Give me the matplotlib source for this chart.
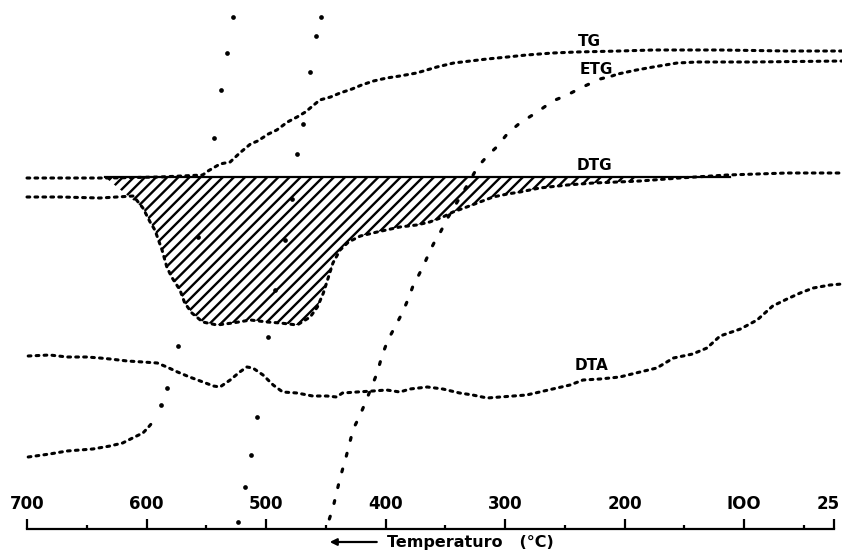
import numpy as np
import matplotlib
matplotlib.use("Agg")
import matplotlib.pyplot as plt
from matplotlib.ticker import FixedLocator
from matplotlib.transforms import ScaledTranslation

plt.rcParams['hatch.linewidth'] = 1.7

# readings: temperature (deg C) and signal (arbitrary units)
tg_t = [700, 631, 589, 553, 548.5, 538.5, 530, 522, 513, 507, 498, 491, 482, 474,
        467, 462, 455, 446, 438, 428, 420, 410, 399, 388, 374, 357, 343, 329, 315,
        298, 282, 260, 240, 204, 176, 120, 64, 18]
tg_y = [374, 374, 375, 377, 381, 388, 390, 399, 408, 411, 418, 422, 430, 435,
        440, 445, 452, 455, 459, 463, 467, 471, 474, 476, 479, 485, 489, 491, 493,
        495, 497, 499, 500, 501, 502, 502, 501, 501]

etg_t = [447, 444, 438, 433, 427, 422, 417, 407, 403, 398, 393, 386, 381, 377, 373,
         368, 362, 358.6, 354, 348, 342, 336, 329, 323, 314, 307, 297.5, 287.5, 273,
         260, 248, 235, 220.5, 210.5, 205.5, 190, 176, 156, 139, 92.5, 18]
etg_y = [33, 44, 74, 95, 123, 135, 149, 179, 196, 212, 223, 239, 253, 266, 275,
         287, 303, 311, 320, 334, 346, 358, 372, 385, 397, 405, 419, 429, 440,
         451, 457, 465, 473, 476, 478, 482, 485, 489, 490, 490, 491]

dtg_t = [700, 672, 639, 611, 603, 597, 593, 587, 583, 579, 572, 568, 562, 553, 541,
         528, 513, 499, 488, 474, 463, 457, 452, 448, 444, 438, 431, 421, 407, 388,
         374, 363, 352, 343.5, 332, 321, 310, 298, 287.5, 271, 248, 226, 206, 187,
         154, 114, 64, 18]
dtg_y = [355, 355, 354, 356, 344, 330, 322, 302, 285, 275, 262, 249, 239, 230, 227,
         229, 232, 230, 229, 227, 235, 245, 259, 274, 289, 302, 310, 316, 320, 325,
         327, 330, 335, 340, 345, 350, 355, 358, 360, 364, 367, 369, 370, 371,
         374, 377, 379, 379]
dtg_base = 375
base_t = [635, 112]

dta_t = [699, 681, 666.5, 650, 639, 630.5, 616, 603, 591, 583, 574, 564, 555, 544,
         538.5, 530, 522, 516, 511, 502.5, 494, 486, 474, 461, 449, 441, 436, 424,
         410.5, 399, 388, 379.5, 365, 352, 338, 327, 315, 304, 282, 271, 256.5,
         245.6, 234.7, 220.5, 204, 187, 173, 159, 143, 131, 120, 103, 89, 76, 64,
         53, 42, 28, 18]
dta_y = [196, 197, 195, 195, 194, 193, 191, 190, 189, 185, 180, 175, 171, 166,
         165, 172, 180, 185, 184, 177, 167, 160, 159, 156, 156, 155, 159, 160,
         161, 162, 160, 163, 165, 163, 159, 157, 154, 155, 157, 160, 164,
         167, 172, 173, 175, 180, 184, 194, 198, 204, 216, 223, 232, 246, 253,
         259, 264, 267, 268]

# left temperature trace: dense part then single points
ta_t = [699, 681, 666.5, 645, 630.5, 620, 610, 603, 599, 594]
ta_y = [95, 98, 101, 103, 106, 109, 115, 119, 124, 131]
ta_pts_t = [588, 583, 573.6, 557, 543.5, 537.7, 532.6, 527.6]
ta_pts_y = [147, 164, 206, 315, 414, 462, 499, 535]

# right temperature trace (single points)
tb_t = [454, 458, 463, 469, 474, 478, 484, 492.5, 498, 507.5, 512.6, 517.6, 523.4]
tb_y = [535, 516, 480, 428, 398, 353, 312, 262, 215, 135, 97, 65, 30]

major = [700, 600, 500, 400, 300, 200, 100, 25]
minor = [650, 550, 450, 350, 250, 150, 50]
labels = ['700', '600', '500', '400', '300', '200', 'IOO', '25']

fig = plt.figure(figsize=(8.42, 5.52), dpi=100)
ax = fig.add_axes([0, 0, 1, 1])
ax.set_xlim(722.6, 18.0)
ax.set_ylim(0, 552)

dot = dict(color='black', lw=2.2, linestyle=(0, (0.9, 1.7)), dash_capstyle='round')
sparse = dict(color='black', lw=2.3, linestyle=(0, (0.9, 4.2)), dash_capstyle='round')
ax.plot(tg_t, tg_y, **dot)
et = np.array(etg_t)
ey = np.array(etg_y)
k = np.searchsorted(-et, -210.5)
ax.plot(et[:k + 1], ey[:k + 1], **sparse)
ax.plot(et[k:], ey[k:], **dot)
ax.plot(dtg_t, dtg_y, **dot)
ax.plot(dta_t, dta_y, **dot)
ax.plot(ta_t, ta_y, **dot)
ax.plot(ta_pts_t, ta_pts_y, 'o', color='black', ms=3.4, mew=0)
ax.plot(tb_t, tb_y, 'o', color='black', ms=3.4, mew=0)

# hatched DTG peak between the baseline and the curve
dt = np.array(dtg_t)
dy = np.array(dtg_y)
sel = (dt <= 603) & (dt >= 187)
fx = np.concatenate([[base_t[0]], dt[sel]])
fy = np.concatenate([[dtg_base], dy[sel]])
ax.fill_between(fx, fy, dtg_base, facecolor='none', edgecolor='black',
                hatch='///', linewidth=0)
ax.plot(base_t, [dtg_base, dtg_base], color='black', lw=1.6)

lab = dict(fontsize=11, fontweight='bold', ha='center', va='center')
ax.text(229, 511, 'TG', **lab)
ax.text(224, 482, 'ETG', **lab)
ax.text(225, 387, 'DTG', **lab)
ax.text(227.5, 187, 'DTA', **lab)

# temperature axis
for s in ['left', 'right', 'bottom']:
    ax.spines[s].set_visible(False)
ax.spines['top'].set_position(('data', 23))
ax.spines['top'].set_bounds(25, 700)
ax.spines['top'].set_linewidth(1.6)
ax.xaxis.set_ticks_position('top')
ax.xaxis.set_major_locator(FixedLocator(major))
ax.xaxis.set_minor_locator(FixedLocator(minor))
ax.set_xticklabels(labels)
ax.tick_params(axis='x', which='major', direction='out', length=7, width=1.6,
               pad=4.5, labelsize=12)
ax.tick_params(axis='x', which='minor', direction='out', length=3, width=1.6)
for t in ax.get_xticklabels():
    t.set_fontweight('bold')
last = ax.get_xticklabels()[-1]
last.set_transform(last.get_transform() + ScaledTranslation(-0.05, 0, fig.dpi_scale_trans))
ax.set_yticks([])

ax.annotate('', xy=(449, 10), xytext=(405, 10),
            arrowprops=dict(arrowstyle='-|>', color='black', lw=1.6,
                            mutation_scale=10))
ax.text(399, 10, 'Temperaturo   (°C)', fontsize=11.5, fontweight='bold',
        ha='left', va='center')

fig.savefig('out.png', dpi=100)
